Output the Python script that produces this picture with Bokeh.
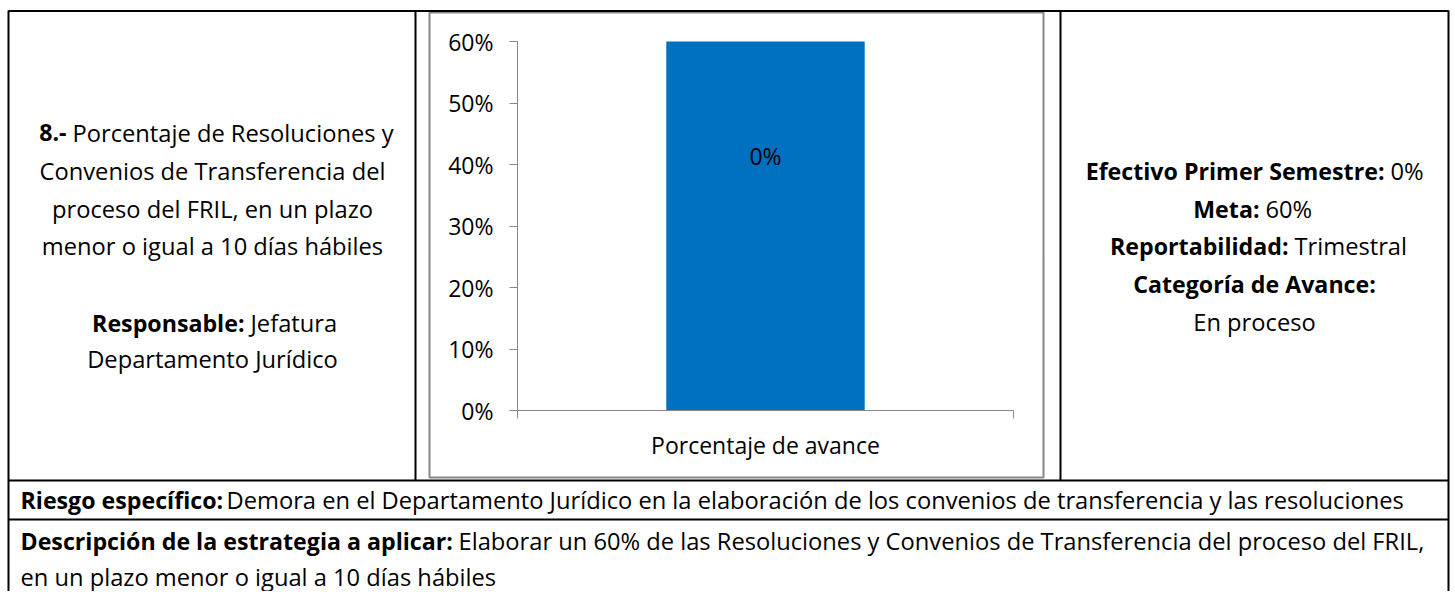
from bokeh.plotting import figure
from bokeh.models import Range1d, LinearAxis, FixedTicker, NumeralTickFormatter, CustomJSTickFormatter
from bokeh.core.properties import value
from bokeh.embed import file_html
from bokeh.resources import INLINE

# ---------------- data ----------------
categories = ["Porcentaje de avance"]
values = [0.60]
data_labels = ["0%"]
y_ticks = [0.0, 0.1, 0.2, 0.3, 0.4, 0.5, 0.6]

left_bold = ["8.-", "", "", "", "Responsable:", ""]
left_regular = ["Porcentaje de Resoluciones y", "Convenios de Transferencia del",
                "proceso del FRIL, en un plazo", "menor o igual a 10 días hábiles",
                "Jefatura", "Departamento Jurídico"]
right_bold = ["Efectivo Primer Semestre:", "Meta:", "Reportabilidad:", "Categoría de Avance:", ""]
right_regular = ["0%", "60%", "Trimestral", "", "En proceso"]
bottom_bold = ["Riesgo específico:", "Descripción de la estrategia a aplicar:", ""]
bottom_regular = ["Demora en el Departamento Jurídico en la elaboración de los convenios de transferencia y las resoluciones",
                  "Elaborar un 60% de las Resoluciones y Convenios de Transferencia del proceso del FRIL,",
                  "en un plazo menor o igual a 10 días hábiles"]

# ---------------- layout (page pixels) ----------------
W, H = 1452, 591
PAGE_X0, PAGE_Y0 = 0, 0
PLOT_LEFT, PLOT_W = 517, 496          # category slot on page
PLOT_BOTTOM, PX_PER_UNIT = 410, 615   # value 0 on page, px per 100%

x0u = (PAGE_X0 - PLOT_LEFT) / PLOT_W
x1u = (PAGE_X0 + W - PLOT_LEFT) / PLOT_W
y0v = (PLOT_BOTTOM - (PAGE_Y0 + H)) / PX_PER_UNIT
y1v = (PLOT_BOTTOM - PAGE_Y0) / PX_PER_UNIT

p = figure(width=W, height=H, x_range=Range1d(x0u, x1u), y_range=Range1d(y0v, y1v),
           x_axis_type=None, y_axis_type=None, output_backend="svg",
           toolbar_location=None, min_border=0, outline_line_color=None)
p.extra_x_ranges = {"px": Range1d(PAGE_X0, PAGE_X0 + W)}
p.extra_y_ranges = {"px": Range1d(PAGE_Y0 + H, PAGE_Y0)}

CHART_FONT = value("Open Sans")
CHART_FS = "23px"
TAB_FONT = value("Open Sans")
TAB_FS_REG = "23.7px"
TAB_FS_BOLD = "23.2px"
GRAY = "#888888"

# chart outer border (gray)
p.quad(left=[429], right=[1043], top=[12], bottom=[477], fill_color=None,
       line_color=GRAY, line_width=2, x_range_name="px", y_range_name="px")

# table lines (black)
hx0 = [8, 8, 8, 8, 1448, 415, 1060]
hy0 = [10.5, 480, 519, 10, 10, 10, 10]
hx1 = [1448, 1448, 1448, 8, 1448, 415, 1060]
hy1 = [10.5, 480, 519, 600, 600, 480, 480]
p.segment(x0=hx0, y0=hy0, x1=hx1, y1=hy1, line_color="black", line_width=2,
          x_range_name="px", y_range_name="px")

# bar
xs = [i + 0.5 for i in range(len(categories))]
p.vbar(x=xs, top=values, bottom=0, width=0.4, fill_color="#0070C0", line_color=None)
p.text(x=xs, y=[v * 0.69 for v in values], text=data_labels, text_font=CHART_FONT,
       text_font_size=CHART_FS, text_align="center", text_baseline="middle", text_color="#000000")

# axes
yax = LinearAxis(ticker=FixedTicker(ticks=y_ticks), formatter=NumeralTickFormatter(format="0%"),
                 fixed_location=0, bounds=(0, max(y_ticks)))
yax.axis_line_color = GRAY
yax.major_tick_line_color = GRAY
yax.major_tick_out = 8
yax.major_tick_in = 0
yax.minor_tick_line_color = None
yax.major_label_text_font = "Open Sans"
yax.major_label_text_font_size = CHART_FS
yax.major_label_text_color = "#000000"
yax.major_label_standoff = 16
p.add_layout(yax, "left")

xa = LinearAxis(ticker=FixedTicker(ticks=list(range(len(categories) + 1))),
                formatter=CustomJSTickFormatter(code="return '';"),
                fixed_location=0, bounds=(0, len(categories)))
xa.axis_line_color = GRAY
xa.major_tick_line_color = GRAY
xa.major_tick_out = 8
xa.major_tick_in = 0
xa.minor_tick_line_color = None
p.add_layout(xa, "below")

xb = LinearAxis(ticker=FixedTicker(ticks=xs),
                formatter=CustomJSTickFormatter(args=dict(cats=categories),
                                                code="return cats[Math.floor(tick)] || '';"),
                fixed_location=0)
xb.axis_line_color = None
xb.major_tick_line_color = None
xb.minor_tick_line_color = None
xb.major_label_text_font = "Open Sans"
xb.major_label_text_font_size = CHART_FS
xb.major_label_text_color = "#000000"
xb.major_label_standoff = 12
p.add_layout(xb, "below")


def txt(x, y, s, bold=False, align="left"):
    if not s:
        return
    p.text(x=[x], y=[y], text=[s], x_range_name="px", y_range_name="px",
           text_font=TAB_FONT, text_font_size=TAB_FS_BOLD if bold else TAB_FS_REG,
           text_font_style="bold" if bold else "normal",
           text_align=align, text_baseline="middle", text_color="#000000")


def cell_lines(bolds, regs, ys, joins, cx):
    for b, r, y, j in zip(bolds, regs, ys, joins):
        if b and r:
            txt(j - 2, y, b, True, "right")
            txt(j + 4, y, r, False, "left")
        elif b:
            txt(cx, y, b, True, "center")
        else:
            txt(cx, y, r, False, "center")


cell_lines(left_bold, left_regular, [132, 170, 208, 245, 322, 358],
           [68, 0, 0, 0, 246, 0], 212)
cell_lines(right_bold, right_regular, [170, 208, 245, 283, 321],
           [1386, 1261, 1290, 0, 0], 1254)

bottom_ys = [499, 540, 576]
bottom_reg_x = [226, 458, 20]
for b, r, y, rx in zip(bottom_bold, bottom_regular, bottom_ys, bottom_reg_x):
    txt(20, y, b, True, "left")
    txt(rx, y, r, False, "left")

open("out.html", "w").write(file_html(p, INLINE))
